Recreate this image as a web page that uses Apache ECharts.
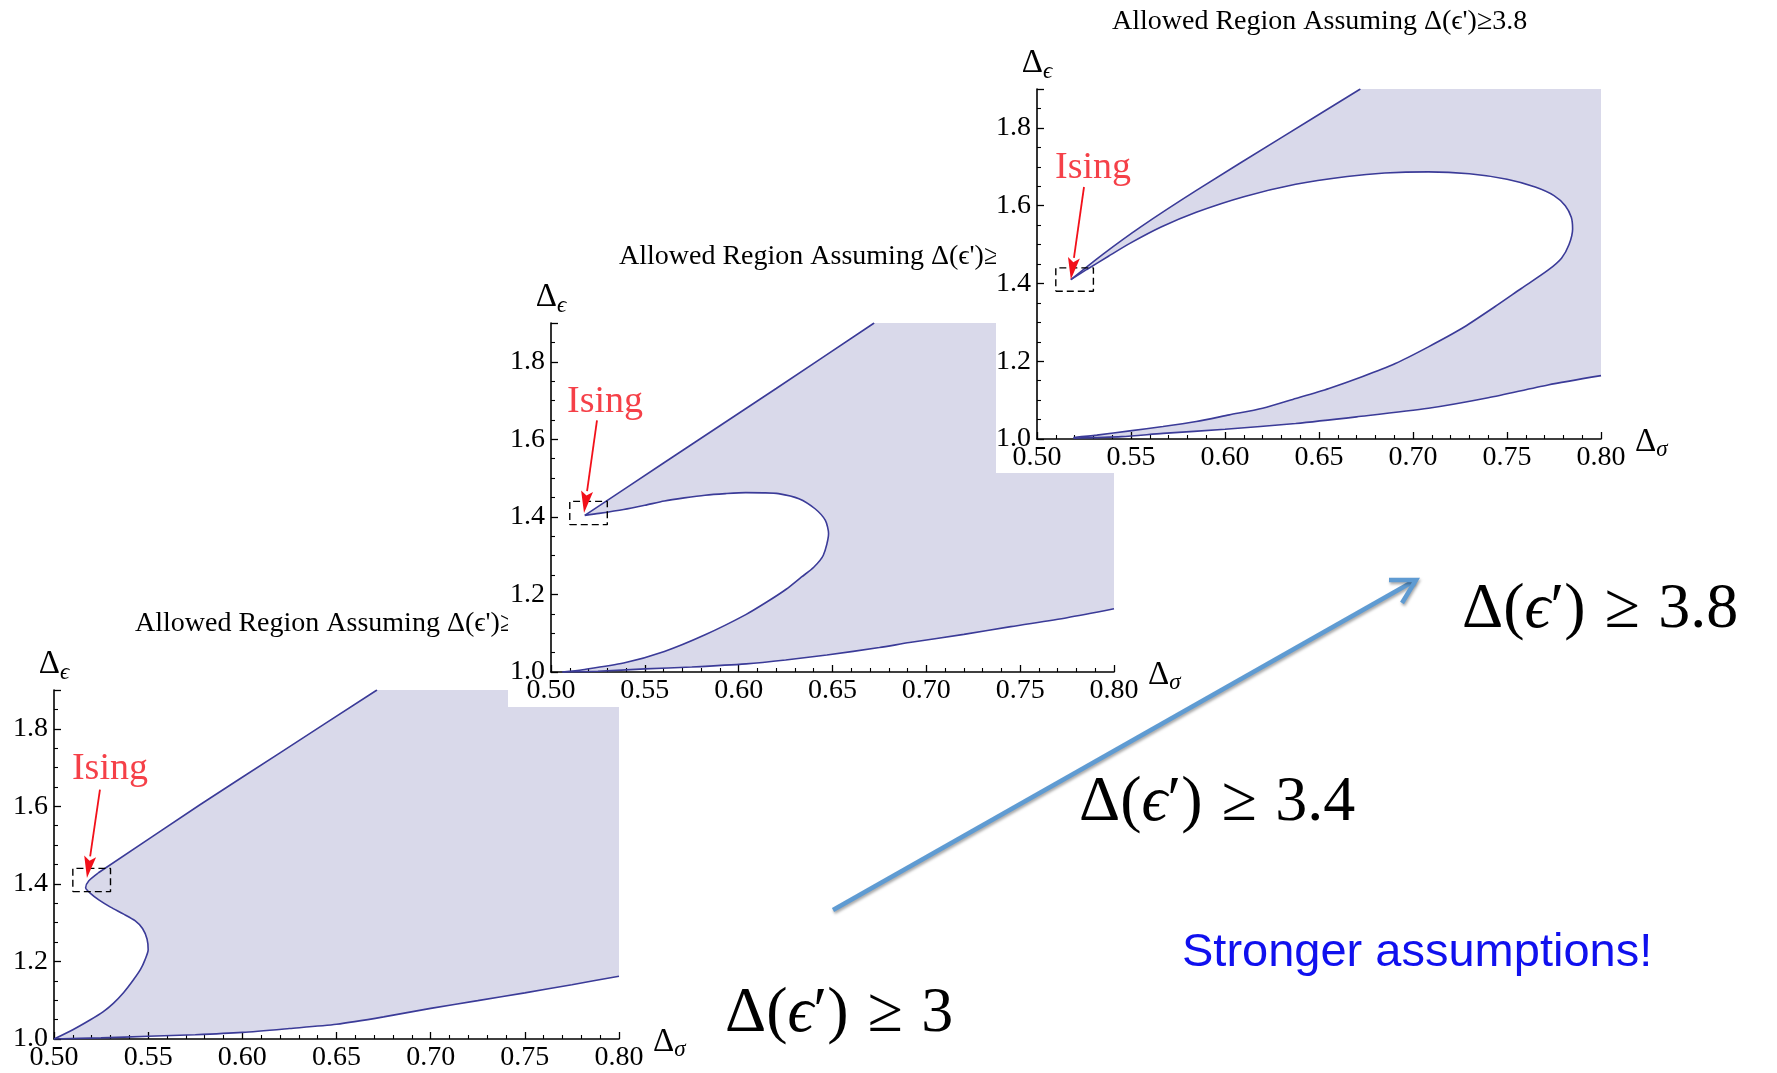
<!DOCTYPE html>
<html><head><meta charset="utf-8">
<script src="https://cdn.jsdelivr.net/npm/echarts@6/dist/echarts.min.js"></script>
<style>html,body{margin:0;padding:0;background:#fff}#c{width:1777px;height:1073px}</style>
</head><body><div id="c"></div><script>
// ---------- data ----------
const xRange = [0.50, 0.80];
const yRange = [1.0, 1.9];
const panelGaps = ['3', '3.4', '3.8'];
const panelTitles = ["Allowed Region Assuming \u0394(\u03f5')\u22653", "Allowed Region Assuming \u0394(\u03f5')\u22653.4", "Allowed Region Assuming \u0394(\u03f5')\u22653.8"];

// Panel 1: Δ(ε') ≥ 3
const p1Left = [[0.5000,1.000],[0.5100,1.024],[0.5191,1.049],[0.5260,1.070],[0.5315,1.092],[0.5370,1.120],[0.5421,1.152],[0.5460,1.180],[0.5483,1.204],[0.5500,1.230],[0.5494,1.258],[0.5470,1.285],[0.5430,1.305],[0.5370,1.322],[0.5300,1.340],[0.5240,1.358],[0.5195,1.375],[0.5168,1.390],[0.5185,1.408],[0.5234,1.428]];
const p1Upper = [[0.5234,1.428],[0.5775,1.604],[0.6200,1.738],[0.6715,1.900]];
const p1Lower = [[0.500,1.000],[0.525,1.003],[0.550,1.007],[0.575,1.011],[0.600,1.017],[0.625,1.027],[0.650,1.038],[0.675,1.057],[0.700,1.079],[0.725,1.099],[0.750,1.119],[0.775,1.140],[0.800,1.162]];

// Panel 2: Δ(ε') ≥ 3.4
const p2Upper = [[0.5180,1.404],[0.5600,1.539],[0.6200,1.731],[0.6722,1.900]];
const p2Inner = [[0.5180,1.404],[0.5256,1.409],[0.5387,1.419],[0.5500,1.430],[0.5604,1.441],[0.5710,1.449],[0.5821,1.456],[0.5930,1.460],[0.6038,1.4625],[0.6130,1.4620],[0.6212,1.460],[0.6321,1.447],[0.6407,1.421],[0.6462,1.391],[0.6479,1.357],[0.6451,1.301],[0.6400,1.270],[0.6335,1.245],[0.6255,1.214],[0.6158,1.183],[0.6038,1.148],[0.5821,1.096],[0.5604,1.053],[0.5387,1.023],[0.5169,1.006],[0.5061,1.000]];
const p2Lower = [[0.506,1.000],[0.525,1.002],[0.550,1.008],[0.575,1.013],[0.604,1.021],[0.625,1.031],[0.647,1.044],[0.675,1.063],[0.691,1.076],[0.720,1.097],[0.745,1.117],[0.775,1.140],[0.800,1.163]];

// Panel 3: Δ(ε') ≥ 3.8
const p3Upper = [[0.5180,1.410],[0.5350,1.475],[0.5550,1.545],[0.5850,1.640],[0.6300,1.775],[0.6720,1.900]];
const p3Inner = [[0.5180,1.410],[0.5265,1.436],[0.5380,1.470],[0.5494,1.503],[0.5660,1.545],[0.5847,1.583],[0.6100,1.623],[0.6376,1.655],[0.6650,1.675],[0.6850,1.684],[0.7082,1.687],[0.7300,1.682],[0.7500,1.668],[0.7650,1.648],[0.7750,1.626],[0.7810,1.600],[0.7842,1.570],[0.7849,1.540],[0.7830,1.500],[0.7790,1.465],[0.7718,1.434],[0.7576,1.387],[0.7435,1.340],[0.7259,1.284],[0.7082,1.237],[0.6906,1.194],[0.6729,1.160],[0.6553,1.130],[0.6376,1.104],[0.6200,1.079],[0.6023,1.062],[0.5847,1.045],[0.5670,1.032],[0.5494,1.021],[0.5318,1.010],[0.5194,1.004]];
const p3Lower = [[0.5194,1.002],[0.5450,1.006],[0.5670,1.0145],[0.6000,1.025],[0.6376,1.040],[0.6700,1.057],[0.7082,1.079],[0.7400,1.106],[0.7718,1.139],[0.8000,1.163]];

// Ising annotations (label position, arrow tail, arrow head) and dashed box
const isingLabel = [[0.5297,1.697],[0.5288,1.697],[0.5298,1.697]];
const isingArrowFrom = [[0.5244,1.643],[0.5245,1.649],[0.5250,1.648]];
const isingArrowTo = [[0.5175,1.415],[0.5176,1.410],[0.5180,1.410]];
const isingBox = [[0.51,1.38],[0.53,1.38],[0.53,1.44],[0.51,1.44],[0.51,1.38]];

// ---------- building ----------
const rev = a => a.slice().reverse();
const corner = [xRange[1], yRange[1]];
const polys = [
  p1Left.concat(p1Upper, [corner], rev(p1Lower)),
  p2Upper.concat([corner], rev(p2Lower), rev(p2Inner)),
  p3Upper.concat([corner], rev(p3Lower), rev(p3Inner))
];
const curves = [[p1Left, p1Upper, p1Lower],[p2Upper, p2Inner, p2Lower],[p3Upper, p3Inner, p3Lower]];

const FILL = '#d9d9ea', LINE = '#3b3b98', RED = '#f2101a';
const SERIF = 'Liberation Serif';
const grids = [
  {left: 54, top: 690, width: 565, height: 349},
  {left: 551, top: 323, width: 563, height: 349},
  {left: 1037, top: 89, width: 564, height: 350}
];
const titlePos = [{left: 130, top: 605}, {left: 614, top: 238}, {left: 1107, top: 3}];

const nameRich = () => ({
  d: {fontFamily: SERIF, fontSize: 33, color: '#000', lineHeight: 36},
  s: {fontFamily: SERIF, fontSize: 23, fontStyle: 'italic', color: '#000', padding: [16, 0, 0, 0]}
});

const xAxes = [], yAxes = [], series = [], titles = [];
for (let i = 0; i < 3; i++) {
  xAxes.push({
    gridIndex: i, type: 'value', min: xRange[0], max: xRange[1], interval: 0.05,
    zlevel: i, z: 3,
    axisLine: {show: true, onZero: false, lineStyle: {color: '#000', width: 1.6}},
    axisTick: {show: true, inside: true, length: 7, lineStyle: {color: '#000', width: 1.3}},
    minorTick: {show: true, splitNumber: 5, length: 4, lineStyle: {color: '#000', width: 1.1}},
    splitLine: {show: false},
    axisLabel: {color: '#000', fontFamily: SERIF, fontSize: 28, margin: 5, formatter: v => v.toFixed(2)},
    name: '{d|\u0394}{s|\u03c3}', nameLocation: 'end', nameGap: 34,
    nameTextStyle: {rich: nameRich(), padding: [6, 0, 0, 0]}
  });
  yAxes.push({
    gridIndex: i, type: 'value', min: yRange[0], max: yRange[1], interval: 0.2,
    zlevel: i, z: 3,
    axisLine: {show: true, onZero: false, lineStyle: {color: '#000', width: 1.6}},
    axisTick: {show: true, inside: true, length: 7, lineStyle: {color: '#000', width: 1.3}},
    minorTick: {show: true, splitNumber: 4, length: 4, lineStyle: {color: '#000', width: 1.1}},
    splitLine: {show: false},
    axisLabel: {color: '#000', fontFamily: SERIF, fontSize: 28, margin: 6, showMaxLabel: false, formatter: v => v.toFixed(1)},
    name: '{d|\u0394}{s|\u03f5}', nameLocation: 'end', nameGap: 6,
    nameTextStyle: {rich: nameRich()}
  });
  titles.push({
    text: panelTitles[i], left: titlePos[i].left, top: titlePos[i].top, zlevel: i, z: 3,
    textStyle: {fontFamily: SERIF, fontSize: 28, fontWeight: 'normal', color: '#000'}
  });
  const poly = polys[i];
  series.push({
    type: 'custom', xAxisIndex: i, yAxisIndex: i, zlevel: i, z: 2, silent: true,
    data: [[xRange[0], yRange[0]]],
    renderItem: (params, api) => ({
      type: 'polygon',
      shape: {points: poly.map(p => api.coord(p))},
      style: {fill: FILL, stroke: null}
    })
  });
  curves[i].forEach(c => series.push({
    type: 'line', xAxisIndex: i, yAxisIndex: i, zlevel: i, z: 4, data: c,
    showSymbol: false, symbol: 'none', smooth: 0.25, lineStyle: {color: LINE, width: 1.6}
  }));
  series.push({
    type: 'line', xAxisIndex: i, yAxisIndex: i, zlevel: i, z: 5, data: isingBox,
    showSymbol: false, symbol: 'none', lineStyle: {color: '#000', width: 1.4, type: [7, 4]}
  });
  series.push({
    type: 'scatter', xAxisIndex: i, yAxisIndex: i, zlevel: i, z: 6,
    data: [isingLabel[i]], symbolSize: 0,
    label: {show: true, position: 'inside', formatter: 'Ising', color: RED, fontFamily: SERIF, fontSize: 38}
  });
  const from = isingArrowFrom[i], to = isingArrowTo[i];
  series.push({
    type: 'custom', xAxisIndex: i, yAxisIndex: i, zlevel: i, z: 7, silent: true,
    data: [from],
    renderItem: (params, api) => {
      const a = api.coord(from), b = api.coord(to);
      const dx = b[0] - a[0], dy = b[1] - a[1], L = Math.hypot(dx, dy);
      const ux = dx / L, uy = dy / L, hl = 22, hw = 6;
      const bx = b[0] - ux * hl, by = b[1] - uy * hl;
      return {type: 'group', children: [
        {type: 'line', shape: {x1: a[0], y1: a[1], x2: bx, y2: by}, style: {stroke: RED, lineWidth: 1.8}},
        {type: 'polygon', shape: {points: [[b[0], b[1]], [bx - uy * hw, by + ux * hw], [b[0] - ux * hl * 0.8, b[1] - uy * hl * 0.8], [bx + uy * hw, by - ux * hw]]}, style: {fill: RED}}
      ]};
    }
  });
}

function gapText(g, x, y) {
  return {
    type: 'text', zlevel: 3, z: 10, left: x, top: y,
    style: {
      text: '{a|\u0394(}{e|\u03f5}{a|\u2032)\u2009}{g|\u2265}{a|\u2009' + g + '}',
      rich: {
        a: {fontFamily: SERIF, fontSize: 64, fill: '#000'},
        e: {fontFamily: SERIF, fontSize: 64, fontStyle: 'italic', fill: '#000'},
        g: {fontFamily: SERIF, fontSize: 64, fill: '#000', padding: [0, 6, 0, 6]}
      }
    }
  };
}

const option = {
  animation: false,
  backgroundColor: '#fff',
  title: titles,
  grid: grids.map(g => Object.assign({containLabel: false}, g)),
  xAxis: xAxes,
  yAxis: yAxes,
  series: series,
  graphic: {elements: [
    {type: 'rect', zlevel: 1, z: 1, silent: true, shape: {x: 508, y: 180, width: 700, height: 527}, style: {fill: '#fff'}},
    {type: 'rect', zlevel: 2, z: 1, silent: true, shape: {x: 996, y: 0, width: 781, height: 473}, style: {fill: '#fff'}},
    gapText(panelGaps[0], 725, 982),
    gapText(panelGaps[1], 1079, 771),
    gapText(panelGaps[2], 1462, 578),
    {type: 'text', zlevel: 3, z: 10, left: 1182, top: 930,
     style: {text: 'Stronger assumptions!', fontFamily: 'Liberation Sans', fontSize: 47, fill: '#1010ee'}},
    {type: 'line', zlevel: 3, z: 10, shape: {x1: 833, y1: 910, x2: 1414, y2: 581},
     style: {stroke: '#5f9bd2', lineWidth: 4.5, lineCap: 'butt', shadowBlur: 3, shadowColor: 'rgba(0,0,0,0.35)', shadowOffsetX: 1, shadowOffsetY: 2}},
    {type: 'polyline', zlevel: 3, z: 10, shape: {points: [[1389, 580], [1416, 580], [1402, 603]]},
     style: {stroke: '#5f9bd2', lineWidth: 4.5, fill: null, lineJoin: 'miter', shadowBlur: 3, shadowColor: 'rgba(0,0,0,0.35)', shadowOffsetX: 1, shadowOffsetY: 2}}
  ]}
};

const chart = echarts.init(document.getElementById('c'), null, {renderer: 'canvas'});
chart.setOption(option);
</script></body></html>
